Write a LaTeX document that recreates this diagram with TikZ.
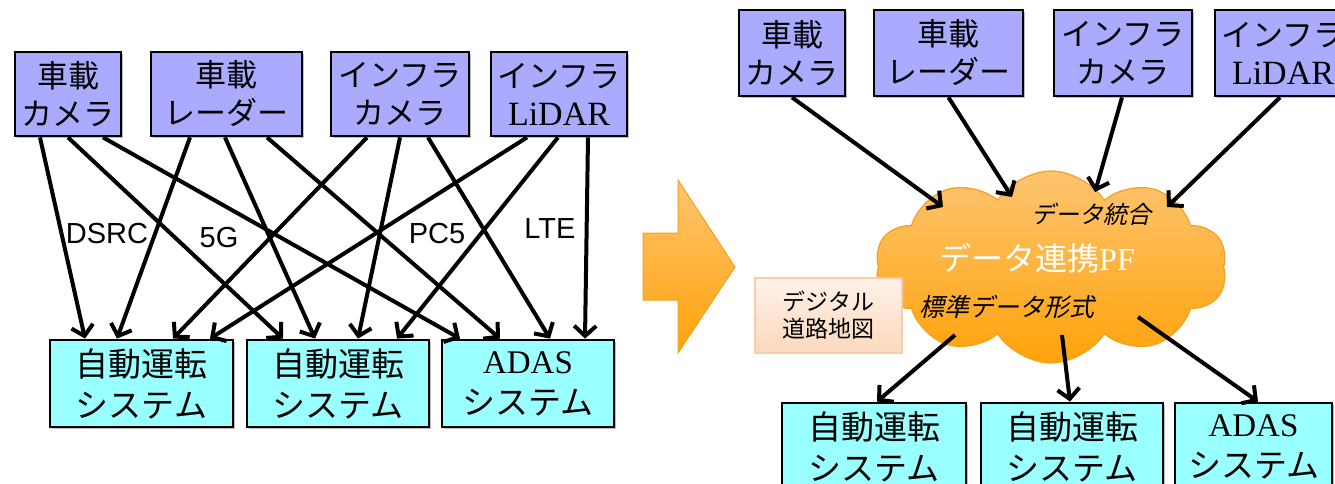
\documentclass[tikz,border=0pt]{standalone}
\usepackage{fontspec}
\setmainfont{Liberation Serif}
\newfontfamily\jp{Noto Sans CJK JP}
\newfontfamily\jpsl{Noto Sans CJK JP}[FakeSlant=0.22]
\newfontfamily\lab{Liberation Sans}
\usetikzlibrary{arrows.meta,shapes.symbols,shadows,calc}

\definecolor{srcfill}{RGB}{170,170,255}
\definecolor{dstfill}{RGB}{153,255,255}
\definecolor{cloudtop}{RGB}{253,196,112}
\definecolor{cloudbot}{RGB}{255,163,10}
\definecolor{cloudedge}{RGB}{245,160,30}
\definecolor{maptop}{RGB}{254,242,232}
\definecolor{mapbot}{RGB}{252,216,190}
\definecolor{mapedge}{RGB}{248,205,170}

\tikzset{
  box/.style={draw=black, line width=2.8pt, inner sep=0pt, align=center,
    drop shadow={shadow xshift=2pt, shadow yshift=-2pt, opacity=0.25, fill=black}},
  srcbox/.style={box, fill=srcfill, minimum height=84pt,
    font=\jp\fontsize{31}{38}\selectfont},
  dstbox/.style={box, fill=dstfill, minimum height=87pt,
    font=\jp\fontsize{33}{41}\selectfont},
  conn/.style={line width=4pt, -{Straight Barb[length=10pt,width=22pt]}},
  netlabel/.style={font=\lab\fontsize{29}{32}\selectfont, inner sep=0pt},
  latin/.style={},
}
\newcommand{\lat}[1]{{\rmfamily\fontsize{34}{38}\selectfont #1}}

\begin{document}
\begin{tikzpicture}[x=1pt, y=-1pt]
\useasboundingbox (0,0) rectangle (1335,484);
\begin{scope}
\clip (0,0) rectangle (1335,484);

% ---------- left: direct connections ----------
\node[srcbox, minimum width=106pt] (L1) at (68,94)    {車載\\カメラ};
\node[srcbox, minimum width=151pt] (L2) at (226.5,94) {車載\\レーダー};
\node[srcbox, minimum width=138pt] (L3) at (400,94)   {インフラ\\カメラ};
\node[srcbox, minimum width=136pt] (L4) at (559,94)   {インフラ\\\lat{LiDAR}};

\node[dstbox, minimum width=183pt] (LA) at (141.5,383.5) {自動運転\\システム};
\node[dstbox, minimum width=182pt] (LB) at (338,383.5)   {自動運転\\システム};
\node[dstbox, minimum width=172pt] (LC) at (528,383.5)   {{\rmfamily ADAS}\\システム};

\draw[conn] ([xshift=-28pt]L1.south)   -- ([xshift=-56.5pt]LA.north);
\draw[conn] (L1.south)                 -- ([xshift=-55pt]LB.north);
\draw[conn] ([xshift=35pt]L1.south)    -- ([xshift=-68pt]LC.north);
\draw[conn] ([xshift=-36.5pt]L2.south) -- ([xshift=-24.5pt]LA.north);
\draw[conn] ([xshift=-1.5pt]L2.south)  -- ([xshift=-23pt]LB.north);
\draw[conn] ([xshift=40.5pt]L2.south)  -- ([xshift=-28pt]LC.north);
\draw[conn] ([xshift=-33pt]L3.south)   -- ([xshift=31.5pt]LA.north);
\draw[conn] (L3.south)                 -- ([xshift=20pt]LB.north);
\draw[conn] ([xshift=28pt]L3.south)    -- ([xshift=22pt]LC.north);
\draw[conn] ([xshift=-32pt]L4.south)   -- ([xshift=68.5pt]LA.north);
\draw[conn] ([xshift=-1pt]L4.south)    -- ([xshift=59pt]LB.north);
\draw[conn] ([xshift=29pt]L4.south)    -- ([xshift=57pt]LC.north);

\node[netlabel] (dsrc) at (107,234) {DSRC};
\node[netlabel] (g5)   at (219,238) {5G};
\node[netlabel] (pc5)  at (437,234) {PC5};
\node[netlabel] (lte)  at (550,229) {LTE};

% ---------- big arrow ----------
\path[draw=cloudedge, line width=1pt, top color=cloudtop, bottom color=cloudbot]
  (643,233) -- (678,233) -- (678,180) -- (735,267) -- (678,353) -- (678,300) -- (643,300) -- cycle;

% ---------- right: platform ----------
\node[srcbox, minimum width=106pt, minimum height=86pt] (R1) at (792,53)    {車載\\カメラ};
\node[srcbox, minimum width=149pt, minimum height=86pt] (R2) at (948.5,53)  {車載\\レーダー};
\node[srcbox, minimum width=138pt, minimum height=86pt] (R3) at (1123,53)   {インフラ\\カメラ};
\node[srcbox, minimum width=136pt, minimum height=86pt] (R4) at (1283,53)   {インフラ\\\lat{LiDAR}};

\node[cloud, cloud puffs=10, cloud puff arc=115, aspect=1.85,
      minimum width=352pt, minimum height=192pt, inner sep=0pt,
      draw=cloudedge, line width=1.2pt, top color=cloudtop, bottom color=cloudbot]
      (pf) at (1051,267) {};

\node[font=\jpsl\fontsize{24}{28}\selectfont, inner sep=0pt] (integ) at (1091,214) {データ統合};
\node[font=\fontsize{32}{36}\selectfont, text=white, inner sep=0pt] (pfname) at (1037,258) {{\jp データ連携}PF};
\node[font=\jpsl\fontsize{25}{30}\selectfont, inner sep=0pt] (std) at (1007,307) {標準データ形式};

\node[draw=mapedge, line width=1.2pt, top color=maptop, bottom color=mapbot,
      minimum width=147pt, minimum height=75pt, inner sep=0pt, align=center,
      font=\jp\fontsize{23}{27}\selectfont] (map) at (828.5,315.5) {デジタル\\道路地図};

\node[dstbox, minimum width=184pt] (RA) at (874,446.5)    {自動運転\\システム};
\node[dstbox, minimum width=182pt] (RB) at (1072,446.5)   {自動運転\\システム};
\node[dstbox, minimum width=157pt] (RC) at (1253.5,446.5) {{\rmfamily ADAS}\\システム};

\coordinate (c1) at (943,207);
\coordinate (c2) at (1012,197);
\coordinate (c3) at (1095,192);
\coordinate (c4) at (1167,207);
\coordinate (b1) at (955,335);
\coordinate (b2) at (1062,335);
\coordinate (b3) at (1138,317);

\draw[conn] (R1.south) -- (c1);
\draw[conn] (R2.south) -- (c2);
\draw[conn] ([xshift=-1pt]R3.south) -- (c3);
\draw[conn] ([xshift=-3pt]R4.south) -- (c4);
\draw[conn] (b1) -- ([xshift=3pt]RA.north);
\draw[conn] (b2) -- ([xshift=-2pt]RB.north);
\draw[conn] (b3) -- ([xshift=4.5pt]RC.north);
\end{scope}
\end{tikzpicture}
\end{document}
